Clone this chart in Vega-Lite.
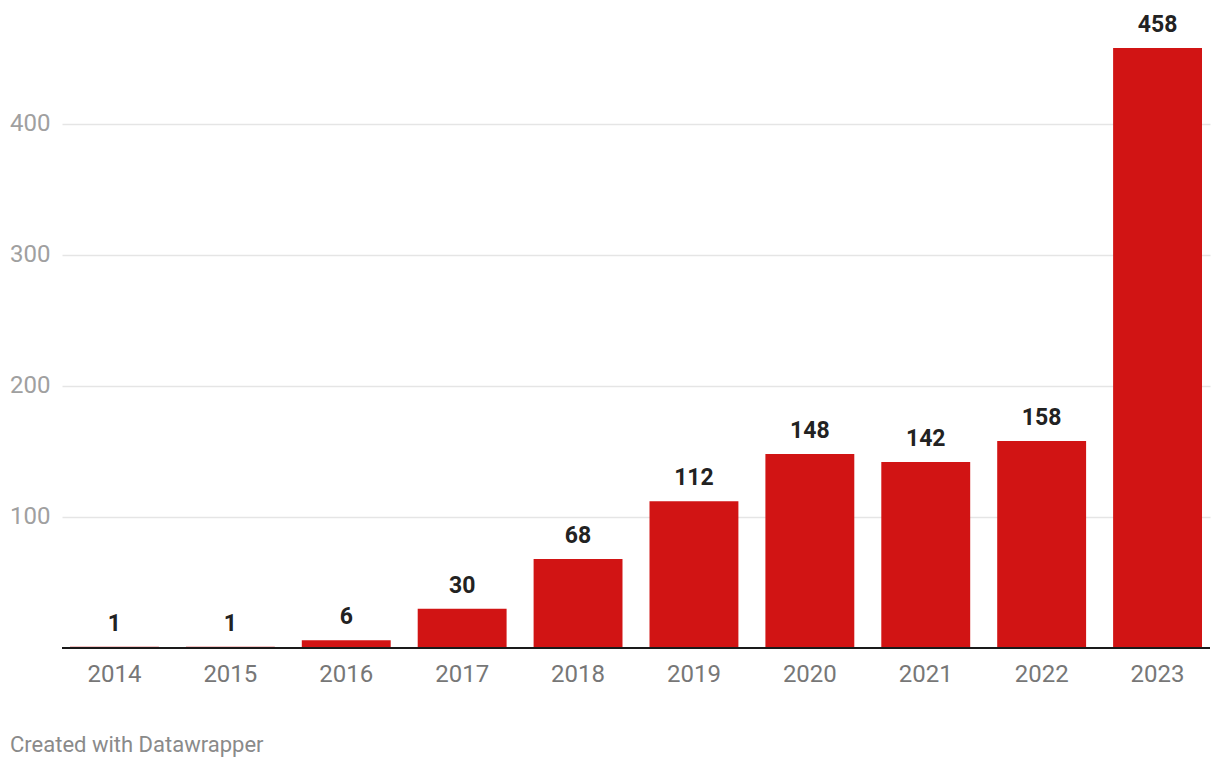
{
  "$schema": "https://vega.github.io/schema/vega-lite/v6.json",
  "autosize": "none",
  "width": 1148,
  "height": 600,
  "padding": {"left": 62, "top": 48, "right": 10, "bottom": 122},
  "background": "white",
  "config": {
    "font": "Roboto",
    "view": {"stroke": null}
  },
  "title": {
    "text": "Created with Datawrapper",
    "orient": "bottom",
    "anchor": "start",
    "frame": "group",
    "dx": -52,
    "offset": 49,
    "fontSize": 22,
    "fontWeight": "normal",
    "color": "#8a8a8a",
    "font": "Roboto"
  },
  "data": {
    "values": [
      {"year": "2014", "value": 1},
      {"year": "2015", "value": 1},
      {"year": "2016", "value": 6},
      {"year": "2017", "value": 30},
      {"year": "2018", "value": 68},
      {"year": "2019", "value": 112},
      {"year": "2020", "value": 148},
      {"year": "2021", "value": 142},
      {"year": "2022", "value": 158},
      {"year": "2023", "value": 458}
    ]
  },
  "encoding": {
    "x": {
      "field": "year",
      "type": "nominal",
      "sort": null,
      "scale": {"paddingInner": 0.233, "paddingOuter": 0.069},
      "axis": {
        "title": null,
        "labelAngle": 0,
        "labelFontSize": 24,
        "labelColor": "#777777",
        "labelPadding": 14,
        "ticks": false,
        "domain": false,
        "grid": false
      }
    },
    "y": {
      "field": "value",
      "type": "quantitative",
      "scale": {"domain": [0, 458], "nice": false, "zero": true},
      "axis": {
        "title": null,
        "values": [100, 200, 300, 400],
        "labelFontSize": 24,
        "labelColor": "#a0a0a0",
        "labelPadding": 12,
        "ticks": false,
        "domain": false,
        "grid": true,
        "gridColor": "#e5e5e5",
        "gridWidth": 1.5
      }
    }
  },
  "layer": [
    {
      "mark": {"type": "bar", "color": "#d11414"}
    },
    {
      "mark": {"type": "text", "baseline": "alphabetic", "dy": -16, "fontSize": 23, "fontWeight": "bold", "color": "#222222"},
      "encoding": {"text": {"field": "value", "type": "quantitative"}}
    },
    {
      "mark": {"type": "rule", "color": "#1a1a1a", "strokeWidth": 2},
      "encoding": {"y": {"datum": 0}, "x": null}
    }
  ]
}
